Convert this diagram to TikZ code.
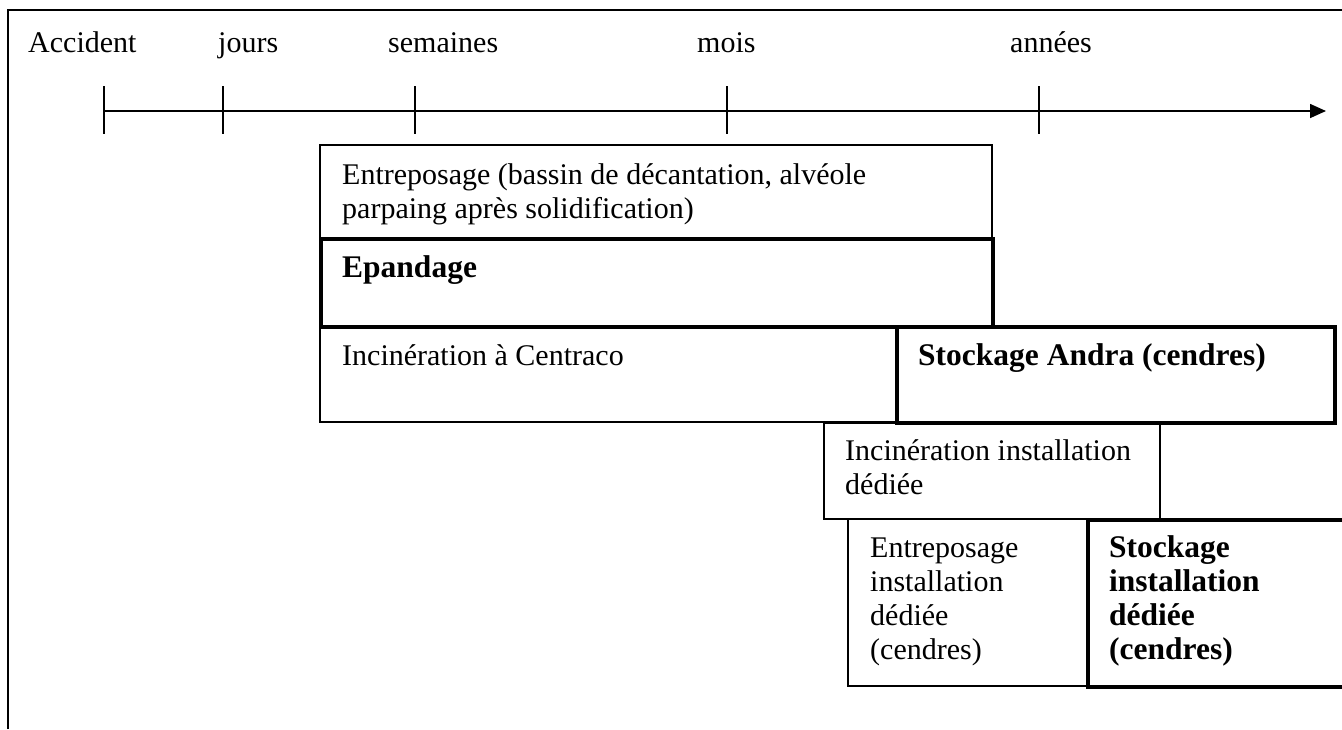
\documentclass[tikz,border=0pt]{standalone}
\usepackage{fontspec}
\setmainfont{Liberation Serif}
\usetikzlibrary{arrows.meta}
\begin{document}
\begin{tikzpicture}[x=1pt,y=-1pt,
  thinbox/.style={draw, line width=1.6pt, inner sep=0pt, anchor=north west},
  thickbox/.style={draw, line width=3.5pt, inner sep=0pt, anchor=north west},
  txt/.style={anchor=north west, inner sep=0pt, align=left, font=\fontsize{30}{34}\selectfont},
  boldtxt/.style={anchor=north west, inner sep=0pt, align=left, font=\fontsize{31.5}{34}\selectfont\bfseries},
  lbl/.style={anchor=base west, inner sep=0pt, font=\fontsize{30}{34}\selectfont},
  tickline/.style={line width=1.5pt},
  axis/.style={line width=1.6pt, -{Triangle[length=16pt,width=14pt]}}]
\clip (0,0) rectangle (1342,729);
% outer frame
\draw[line width=2pt] (8,729) -- (8,10) -- (1342,10);
% time labels
\node[lbl] (lA) at (28,52) {Accident};
\node[lbl] (lj) at (218,52) {jours};
\node[lbl] (ls) at (388,52) {semaines};
\node[lbl] (lm) at (697,52) {mois};
\node[lbl] (la) at (1010,52) {années};
% axis
\coordinate (t0) at (104,111);
\coordinate (t1) at (223,111);
\coordinate (t2) at (415,111);
\coordinate (t3) at (727,111);
\coordinate (t4) at (1039,111);
\coordinate (tend) at (1326,111);
\draw[axis] (t0) -- (tend);
\foreach \c in {t0,t1,t2,t3,t4}
  \draw[tickline] ([yshift=25pt]\c) -- ([yshift=-23pt]\c);
% thin boxes
\node[thinbox, minimum width=672pt, minimum height=93pt] (b1) at (319,144) {};
\node[thinbox, minimum width=576pt, minimum height=96pt] (b3) at (319,325) {};
\node[thinbox, minimum width=336pt, minimum height=96pt] (b5) at (823,422) {};
\node[thinbox, minimum width=239pt, minimum height=167pt] (b6) at (847,518) {};
% thick boxes
\node[thickbox, minimum width=672pt, minimum height=88pt] (b2) at (319,237) {};
\node[thickbox, minimum width=438pt, minimum height=96pt] (b4) at (895,325) {};
\node[thickbox, minimum width=280pt, minimum height=167pt] (b7) at (1086,518) {};
% texts
\node[txt] (x1) at ([xshift=23pt,yshift=-16pt]b1.north west) {\strut Entreposage (bassin de décantation, alvéole\\parpaing après solidification)};
\node[boldtxt] (x2) at ([xshift=23pt,yshift=-16pt]b2.north west) {\strut Epandage};
\node[txt] (x3) at ([xshift=23pt,yshift=-16pt]b3.north west) {\strut Incinération à Centraco};
\node[boldtxt] (x4) at ([xshift=23pt,yshift=-16pt]b4.north west) {\strut Stockage Andra (cendres)};
\node[txt] (x5) at ([xshift=22pt,yshift=-14pt]b5.north west) {\strut Incinération installation\\dédiée};
\node[txt] (x6) at ([xshift=23pt,yshift=-15pt]b6.north west) {\strut Entreposage\\installation\\dédiée\\(cendres)};
\node[boldtxt] (x7) at ([xshift=23pt,yshift=-15pt]b7.north west) {\strut Stockage\\installation\\dédiée\\(cendres)};
\end{tikzpicture}
\end{document}
